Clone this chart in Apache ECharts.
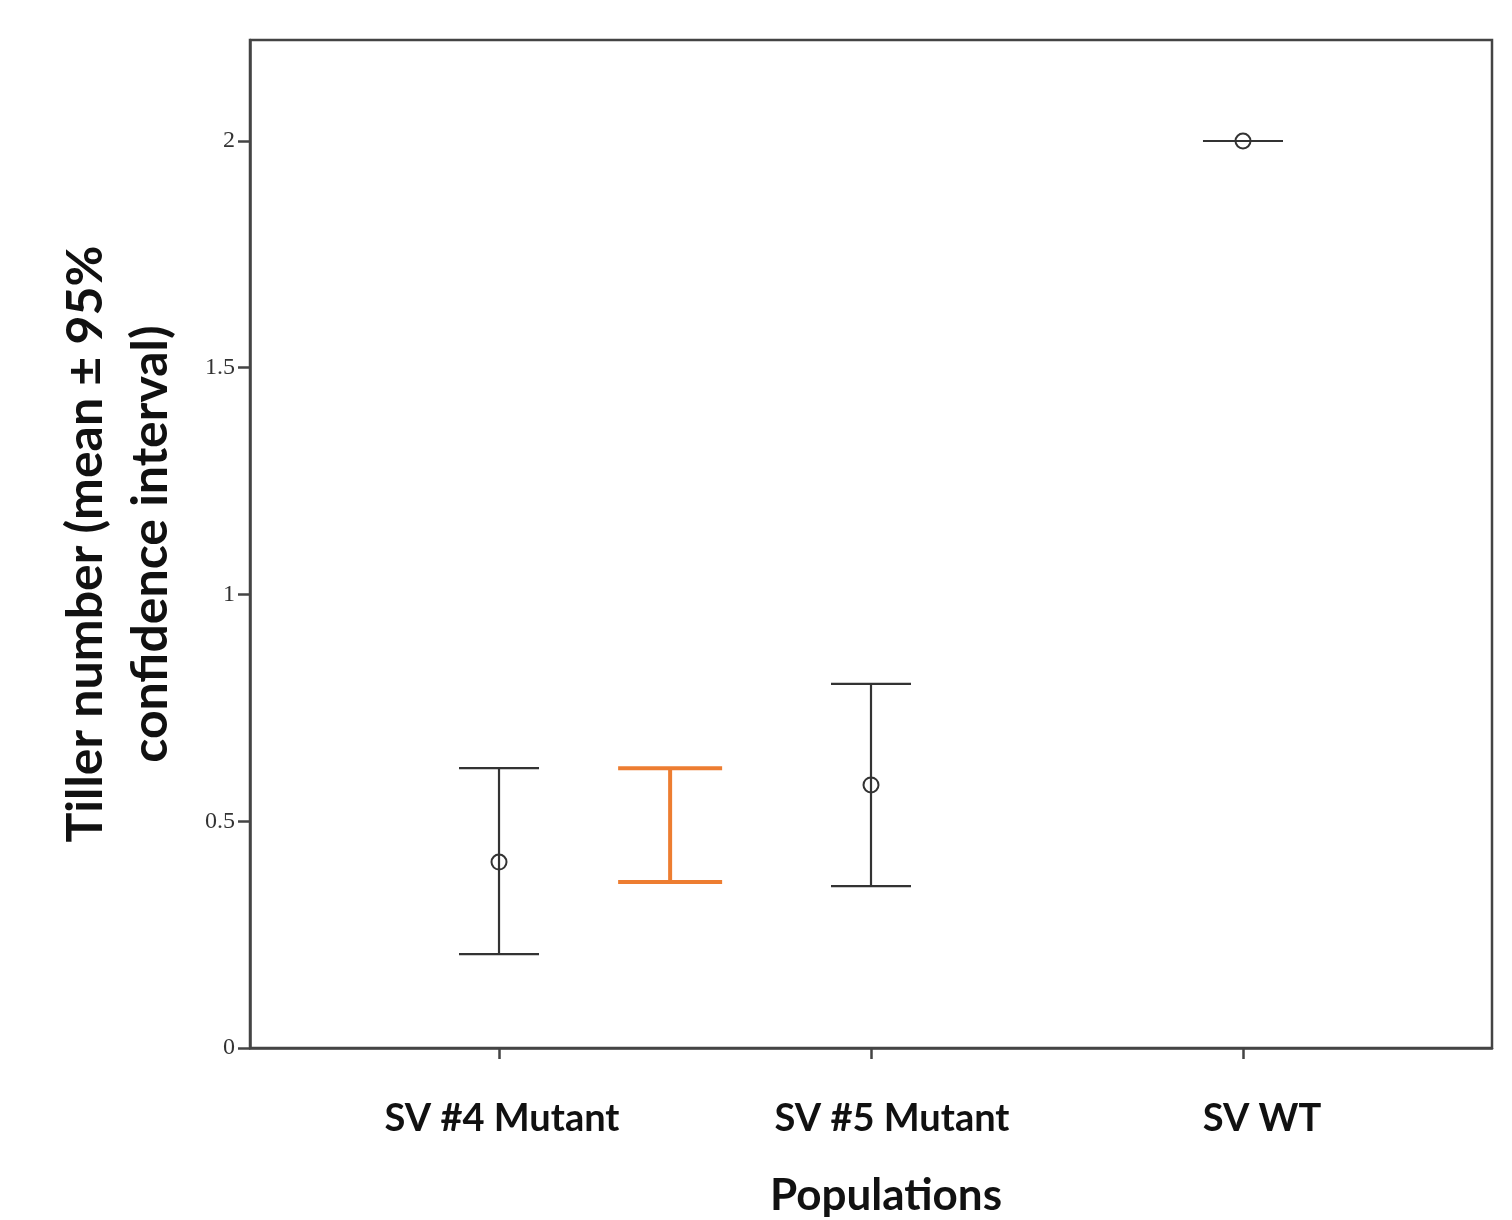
<!DOCTYPE html>
<html>
<head>
<meta charset="utf-8">
<script src="https://cdn.jsdelivr.net/npm/echarts@6/dist/echarts.min.js"></script>
<style>
html,body{margin:0;padding:0;background:#fff;}
#chart{width:1512px;height:1220px;}
</style>
</head>
<body>
<div id="chart"></div>
<script>
// ---- data ----
const categories = ['SV #4 Mutant', 'SV #5 Mutant', 'SV WT'];
const catPositions = [1, 2, 3];
const means = [0.41, 0.58, 2.0];
const lowerCI = [0.207, 0.357, 2.0];
const upperCI = [0.617, 0.803, 2.0];
// extra (orange) interval bar between first two populations
const extraBarX = [1.46];
const extraBarLower = [0.366];
const extraBarUpper = [0.617];
const yTicks = [0, 0.5, 1, 1.5, 2];
const yTickLabels = ['0', '0.5', '1', '1.5', '2'];

const blackData = catPositions.map((x, i) => [x, lowerCI[i], upperCI[i], means[i]]);
const orangeData = extraBarX.map((x, i) => [x, extraBarLower[i], extraBarUpper[i]]);

function errRender(halfW, color, lw, withMean) {
  return function (params, api) {
    const x = api.value(0);
    const lo = api.coord([x, api.value(1)]);
    const hi = api.coord([x, api.value(2)]);
    const children = [];
    if (Math.abs(lo[1] - hi[1]) > 0.5) {
      children.push({type: 'line', shape: {x1: hi[0], y1: hi[1], x2: lo[0], y2: lo[1]},
        style: {stroke: color, lineWidth: lw}});
    }
    children.push({type: 'line', shape: {x1: hi[0] - halfW, y1: hi[1], x2: hi[0] + halfW, y2: hi[1]},
      style: {stroke: color, lineWidth: lw}});
    children.push({type: 'line', shape: {x1: lo[0] - halfW, y1: lo[1], x2: lo[0] + halfW, y2: lo[1]},
      style: {stroke: color, lineWidth: lw}});
    if (withMean) {
      const m = api.coord([x, api.value(3)]);
      children.push({type: 'circle', shape: {cx: m[0], cy: m[1], r: 7.5},
        style: {fill: 'none', stroke: color, lineWidth: 2}});
    }
    return {type: 'group', children: children};
  };
}

const labelStyle = {color: '#111', fontFamily: 'Lato', fontWeight: 'bold', fontSize: 38};
const chart = echarts.init(document.getElementById('chart'));
chart.setOption({
  animation: false,
  backgroundColor: '#fff',
  grid: {left: 250, right: 20, top: 40, bottom: 172, show: true, outerBoundsMode: 'none', containLabel: false,
         borderColor: '#444', borderWidth: 2.5, backgroundColor: 'transparent'},
  xAxis: {
    type: 'value', min: 0.3306, max: 3.6694,
    splitLine: {show: false},
    axisLine: {show: true, onZero: false, lineStyle: {color: '#444', width: 2.5}},
    axisTick: {show: true, length: 11, customValues: catPositions, lineStyle: {color: '#444', width: 2.5}},
    axisLabel: {customValues: catPositions, margin: 52, color: '#111', fontFamily: 'Lato',
      fontWeight: 'bold', fontSize: 38,
      rich: {
        a: Object.assign({padding: [0, 0, 0, 6]}, labelStyle),
        b: Object.assign({padding: [0, 0, 0, 42]}, labelStyle),
        c: Object.assign({padding: [0, 0, 0, 38]}, labelStyle)
      },
      formatter: v => {
        const i = catPositions.indexOf(Math.round(v));
        return i < 0 ? '' : '{' + 'abc'[i] + '|' + categories[i] + '}';
      }},
    name: 'Populations', nameLocation: 'middle', nameGap: 126,
    nameTextStyle: {color: '#111', fontFamily: 'Lato', fontWeight: 'bold', fontSize: 44, padding: [0, 0, 0, 30]}
  },
  yAxis: {
    type: 'value', min: 0, max: 2.2227,
    splitLine: {show: false},
    axisLine: {show: true, lineStyle: {color: '#444', width: 2.5}},
    axisTick: {show: true, length: 12, customValues: yTicks, lineStyle: {color: '#444', width: 2.5}},
    axisLabel: {customValues: yTicks, margin: 15, color: '#333', fontFamily: 'Liberation Serif', fontSize: 24,
      formatter: v => yTickLabels[yTicks.indexOf(v)] ?? ''},
    name: 'Tiller number (mean ± 95%\nconfidence interval)', nameLocation: 'middle', nameGap: 67,
    nameRotate: 90,
    nameTextStyle: {color: '#111', fontFamily: 'Lato', fontWeight: 'bold', fontSize: 50, lineHeight: 65}
  },
  series: [
    {type: 'custom', renderItem: errRender(40, '#333', 2.2, true), data: blackData,
     encode: {x: 0, y: [1, 2]}, z: 3},
    {type: 'custom', renderItem: errRender(52, '#ED7D31', 4, false), data: orangeData,
     encode: {x: 0, y: [1, 2]}, z: 3}
  ]
});
</script>
</body>
</html>
